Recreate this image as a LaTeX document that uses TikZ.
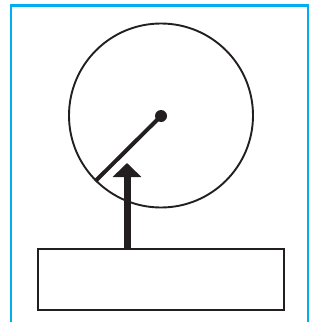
\documentclass[tikz,border=0pt]{standalone}
\usetikzlibrary{arrows.meta}
\definecolor{frameblue}{RGB}{0,174,239}
\definecolor{ink}{RGB}{35,31,32}
\tikzset{
  wheelstyle/.style={circle, draw=ink, line width=1.9pt, minimum size=184pt, inner sep=0pt},
  hubstyle/.style={circle, fill=ink, minimum size=12pt, inner sep=0pt},
  basestyle/.style={rectangle, draw=ink, line width=2.4pt, minimum width=246pt, minimum height=61pt, inner sep=0pt},
  spokestyle/.style={draw=ink, line width=4pt},
  pushstyle/.style={draw=ink, line width=7pt, -{Triangle[width=28pt,length=14pt]}}
}
\begin{document}
\begin{tikzpicture}[x=1pt,y=-1pt]
\useasboundingbox (0,0) rectangle (323,321);
\draw[frameblue, line width=2.6pt] (11,324) -- (11,5.5) -- (308,5.5) -- (308,324);
\node[wheelstyle] (wheel) at (161,115.5) {};
\node[hubstyle] (hub) at (161,116) {};
\node[basestyle] (base) at (161,279.5) {};
\coordinate (tip) at (127,163);
\draw[spokestyle] (hub.center) -- (wheel.225);
\draw[pushstyle] (tip |- base.north) -- (tip);
\end{tikzpicture}
\end{document}
